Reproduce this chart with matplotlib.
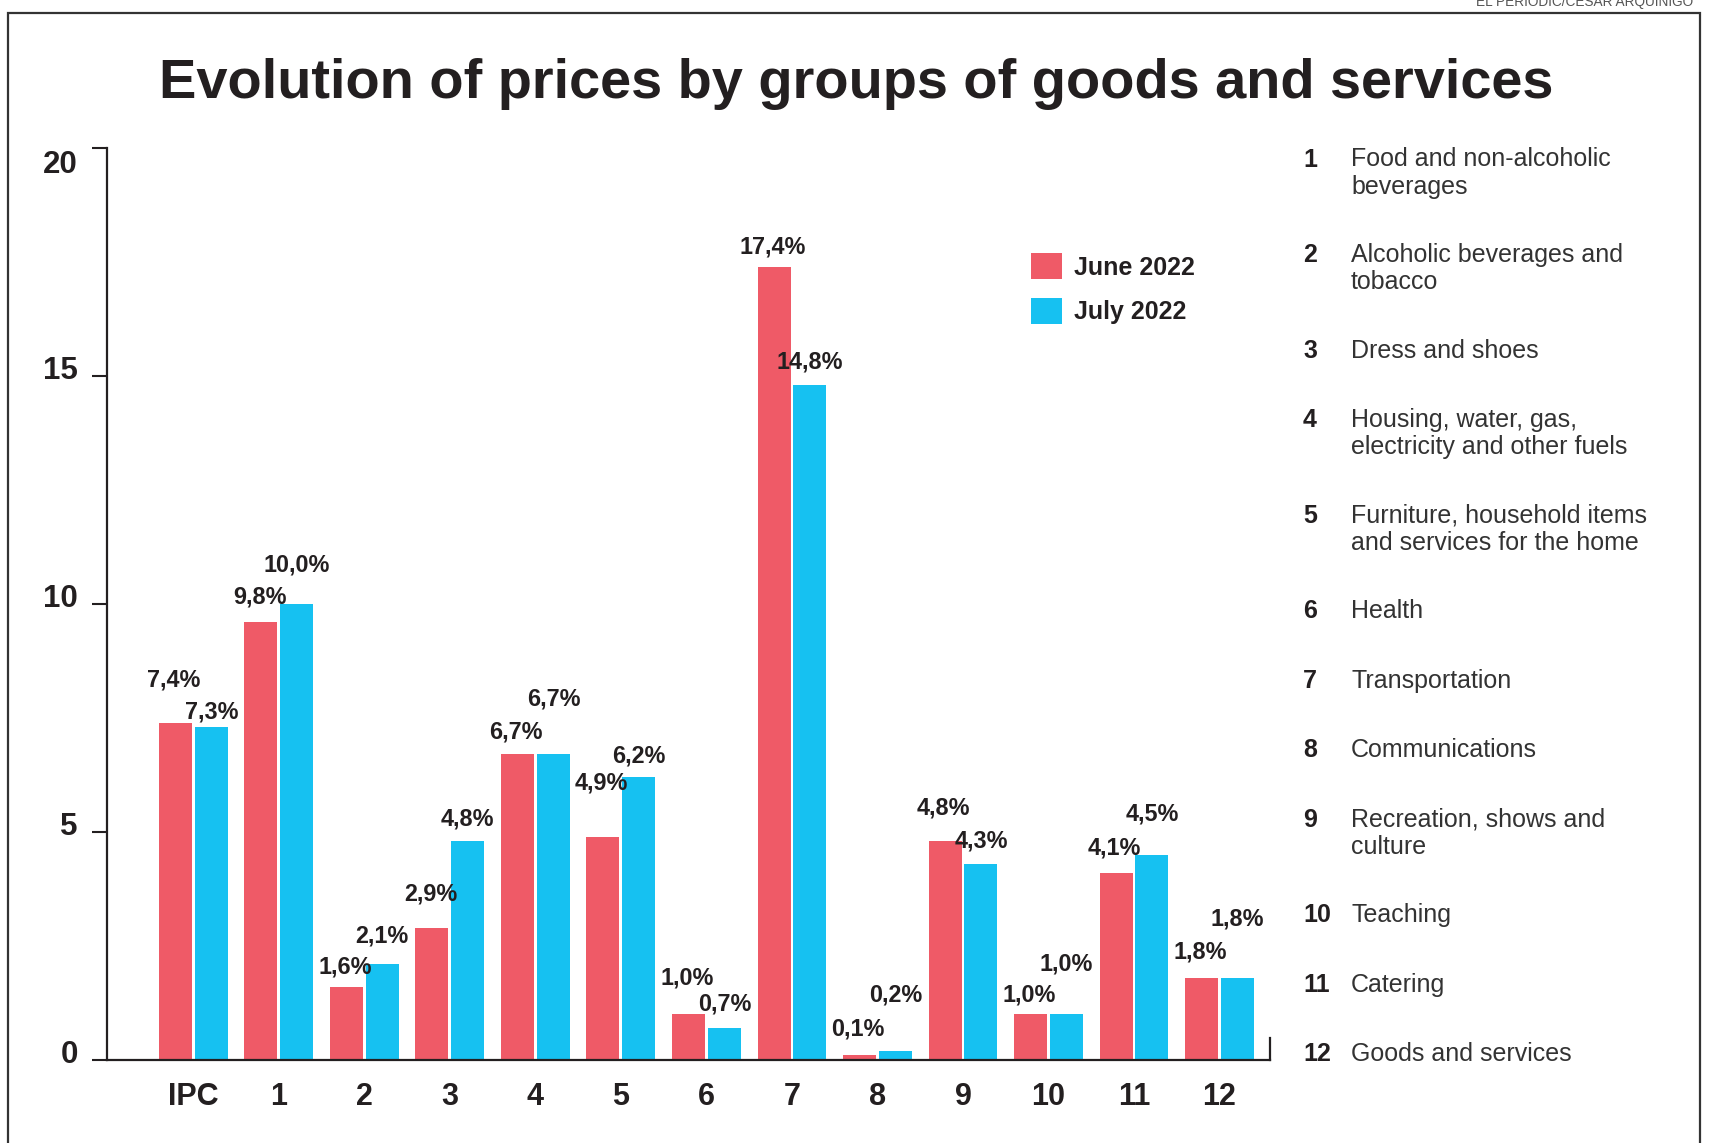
import matplotlib
matplotlib.use("Agg")
import matplotlib.pyplot as plt
from matplotlib.patches import Rectangle
from matplotlib.transforms import ScaledTranslation
import numpy as np

plt.rcParams['font.family'] = ['Liberation Sans', 'DejaVu Sans']

groups = ["IPC", "1", "2", "3", "4", "5", "6", "7", "8", "9", "10", "11", "12"]
june = [7.4, 9.6, 1.6, 2.9, 6.7, 4.9, 1.0, 17.4, 0.1, 4.8, 1.0, 4.1, 1.8]
july = [7.3, 10.0, 2.1, 4.8, 6.7, 6.2, 0.7, 14.8, 0.2, 4.3, 1.0, 4.5, 1.8]
june_labels = ["7,4%", "9,8%", "1,6%", "2,9%", "6,7%", "4,9%", "1,0%",
               "17,4%", "0,1%", "4,8%", "1,0%", "4,1%", "1,8%"]
july_labels = ["7,3%", "10,0%", "2,1%", "4,8%", "6,7%", "6,2%", "0,7%",
               "14,8%", "0,2%", "4,3%", "1,0%", "4,5%", "1,8%"]
categories = ["Food and non-alcoholic\nbeverages",
              "Alcoholic beverages and\ntobacco",
              "Dress and shoes",
              "Housing, water, gas,\nelectricity and other fuels",
              "Furniture, household items\nand services for the home",
              "Health",
              "Transportation",
              "Communications",
              "Recreation, shows and\nculture",
              "Teaching",
              "Catering",
              "Goods and services"]

# label lift above bar top (points), hand placed like the original
june_lift = [30.7, 18.1, 14.2, 24.4, 16.5, 38.6, 26, 14.2, 18.9, 23.6, 14.2, 18.1, 18.9]
july_lift = [11, 28.3, 20.5, 15.7, 40.1, 15, 17.3, 16.5, 40.1, 16.5, 36.2, 29.1, 42.5]

red = "#EF5A67"
blue = "#16C1F1"
ink = "#231f20"

W, H = 1713, 1143
fig = plt.figure(figsize=(W / 100, H / 100), dpi=100)
ax = fig.add_axes([107 / W, 1 - 1060 / H, (1270 - 107) / W, (1060 - 148) / H])

x = np.arange(len(groups))
bw = 0.386
off = 0.21
ax.bar(x - off, june, bw, color=red, label="June 2022")
ax.bar(x + off, july, bw, color=blue, label="July 2022")

for i in range(len(groups)):
    ax.annotate(june_labels[i], (x[i] - off, june[i]), xytext=(-1, june_lift[i]),
                textcoords="offset points", ha="center", va="center",
                fontsize=16.8, fontweight="bold", color=ink)
    ax.annotate(july_labels[i], (x[i] + off, july[i]), xytext=(0, july_lift[i]),
                textcoords="offset points", ha="center", va="center",
                fontsize=16.8, fontweight="bold", color=ink)

ax.set_xlim(-1.01, 12.59)
ax.set_ylim(0, 20)
ax.set_yticks([0, 5, 10, 15, 20])
ax.set_xticks(x)
ax.set_xticklabels(groups)
ax.spines["top"].set_visible(False)
for s in ["left", "bottom", "right"]:
    ax.spines[s].set_linewidth(1.6)
    ax.spines[s].set_color(ink)
ax.spines["right"].set_bounds(0, 0.48)
ax.tick_params(axis="y", direction="out", length=11, width=1.5, color=ink,
               pad=10, labelsize=22.5, labelcolor=ink)
ax.tick_params(axis="x", length=0, pad=16, labelsize=22, labelcolor=ink)
for t in ax.get_xticklabels():
    t.set_fontweight("bold")
# y labels sit a bit above their ticks, the top one below it
for t, v in zip(ax.get_yticklabels(), ax.get_yticks()):
    t.set_fontweight("bold")
    dy = -10 / 72 if v == 20 else 6 / 72
    t.set_transform(t.get_transform() + ScaledTranslation(0, dy, fig.dpi_scale_trans))

leg = ax.legend(loc="upper left", bbox_to_anchor=(1031 / W, 1 - 253 / H),
                bbox_transform=fig.transFigure, frameon=False, fontsize=18,
                borderpad=0, borderaxespad=0, handlelength=1.24, handleheight=1.24,
                handletextpad=0.5, labelspacing=0.72)
for t in leg.get_texts():
    t.set_fontweight("bold")
    t.set_color(ink)

fig.text(0.5, 1 - 98 / H, "Evolution of prices by groups of goods and services",
         ha="center", va="baseline", fontsize=40.3, fontweight="bold", color=ink)

# right-hand key
y = 160.6
for i, c in enumerate(categories):
    n_extra = c.count("\n")
    base = y + 6
    fig.text(1303 / W, 1 - base / H, str(i + 1), ha="left", va="baseline",
             fontsize=18, fontweight="bold", color=ink)
    fig.text(1351 / W, 1 - (base + 27.3 * n_extra) / H, c, ha="left", va="baseline",
             fontsize=18, color="#333333", linespacing=1.2)
    y += 69.5 + 26 * n_extra

# frame and credit
fig.add_artist(Rectangle((8 / W, -0.05), (1700 - 8) / W, 1.05 - 13 / H,
                         transform=fig.transFigure, fill=False,
                         edgecolor="#333333", linewidth=1.6))
fig.text(1693 / W, 1 - 2 / H, "EL PERIODIC/CESAR ARQUINIGO", ha="right", va="center",
         fontsize=9.8, color="#555555")

fig.savefig("out.png", dpi=100)
